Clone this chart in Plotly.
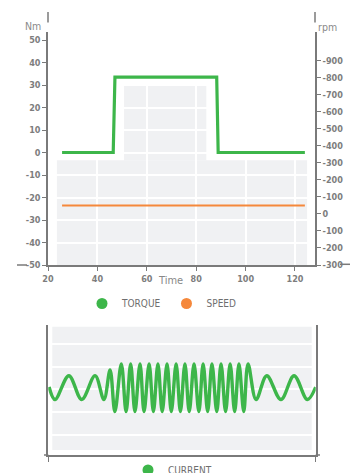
import plotly.graph_objects as go

W, H = 355, 473

# ---- data -------------------------------------------------------------
# torque step profile, Nm
torque_time = [25.7, 46.4, 47.1, 88.3, 88.9, 124.0]
torque_nm = [0, 0, 33.5, 33.5, 0, 0]

# motor speed, rpm
speed_time = [25.7, 124.0]
speed_rpm = [50, 50]

# right-hand axis ticks and their printed labels
rpm_ticks = [-300, -200, -100, 0, 100, 200, 300, 400, 500, 600, 700, 800, 900]
rpm_labels = ["-300", "-200", "-100", "0", "-100", "-200", "-300",
              "-400", "-500", "-600", "-700", "-800", "-900"]

torque_ticks = [-50, -40, -30, -20, -10, 0, 10, 20, 30, 40, 50]
torque_labels = ["-50", "-40", "-30", "-20", "-10", "0", "10", "20", "30", "40", "50"]
time_ticks = [20, 40, 60, 80, 100, 120]

# phase current, extrema of the waveform (time %, amplitude)
current_time = [0.3, 2.5, 7.7, 12.5, 17.5, 20.8, 23.1,
                24.9, 27.3, 29.1, 30.8, 32.4, 34.3, 35.8, 37.7, 39.3, 41.0,
                42.6, 44.4, 46.0, 47.8, 49.4, 51.1, 52.7, 54.5, 56.3, 57.9,
                59.6, 61.2, 63.0, 64.6, 66.3, 68.0, 69.7, 71.3, 73.1, 74.7,
                77.7, 81.7, 87.0, 91.9, 96.9, 100.0]
current_amp = [0.1, -0.45, 0.6, -0.45, 0.6, -0.45, 0.85,
               -0.98, 1.12, -0.98, 1.12, -0.98, 1.12, -0.98, 1.12, -0.98, 1.12,
               -0.98, 1.12, -0.98, 1.12, -0.98, 1.12, -0.98, 1.12, -0.98, 1.12,
               -0.98, 1.12, -0.98, 1.12, -0.98, 1.12, -0.98, 1.12, -0.98, 1.12,
               -0.45, 0.6, -0.45, 0.6, -0.45, 0.1]

# ---- styling ----------------------------------------------------------
GREEN = "#3db64a"
ORANGE = "#f5883b"
PANEL = "#f0f1f3"
AXIS = "#7a7a7a"
TICK = "#7d7d7d"
NARROW = "Liberation Sans Narrow, DejaVu Sans Condensed, Roboto, sans-serif"


def px(x):
    return x / W


def py(y):
    return 1 - y / H


tick_font = dict(family=NARROW, size=9, color=TICK, weight="bold")
legend_font = dict(family=NARROW, size=10, color="#6e6e6e")
unit_font = dict(family=NARROW, size=10.5, color="#8a8a8a")

fig = go.Figure()

fig.add_trace(go.Scatter(x=torque_time, y=torque_nm, mode="lines",
                         line=dict(color=GREEN, width=3.2),
                         showlegend=False, xaxis="x", yaxis="y"))
fig.add_trace(go.Scatter(x=speed_time, y=speed_rpm, mode="lines",
                         line=dict(color=ORANGE, width=2.2),
                         showlegend=False, xaxis="x", yaxis="y2"))
fig.add_trace(go.Scatter(x=current_time, y=current_amp, mode="lines",
                         line=dict(color=GREEN, width=3.4, shape="spline",
                                   smoothing=1.0),
                         showlegend=False, xaxis="x3", yaxis="y3"))

# legend entries (dots)
fig.add_trace(go.Scatter(x=[None], y=[None], mode="markers", name="TORQUE",
                         marker=dict(color=GREEN, size=11), legend="legend",
                         xaxis="x", yaxis="y"))
fig.add_trace(go.Scatter(x=[None], y=[None], mode="markers", name="SPEED",
                         marker=dict(color=ORANGE, size=11), legend="legend",
                         xaxis="x", yaxis="y"))
fig.add_trace(go.Scatter(x=[None], y=[None], mode="markers", name="CURRENT",
                         marker=dict(color=GREEN, size=11), legend="legend2",
                         xaxis="x3", yaxis="y3"))

top_dom = [py(265), py(31.5)]
bot_dom = [py(455), py(325)]
x_dom = [px(48), px(315)]

axis_common = dict(showline=True, linecolor=AXIS, linewidth=1.5,
                   ticks="outside", tickcolor=AXIS, ticklen=4, tickwidth=1.2,
                   tickfont=tick_font, zeroline=False)

shapes = [
    # shaded panel behind the torque chart
    dict(type="rect", xref="x", yref="y", x0=23.6, x1=124.9, y0=-50, y1=-3.4,
         fillcolor=PANEL, line_width=0, layer="below"),
    dict(type="rect", xref="x", yref="y", x0=50.8, x1=84.1, y0=-3.5, y1=29.9,
         fillcolor=PANEL, line_width=0, layer="below"),
    # shaded panel behind the current chart
    dict(type="rect", xref="paper", yref="paper", x0=px(52.3), x1=px(311.7),
         y0=py(450), y1=py(326.7), fillcolor=PANEL, line_width=0, layer="below"),
]


def seg(x0, y0, x1, y1):
    return dict(type="line", xref="paper", yref="paper",
                x0=px(x0), y0=py(y0), x1=px(x1), y1=py(y1),
                line=dict(color=AXIS, width=1.5), layer="above")


shapes += [
    seg(48, 12, 48, 22.5), seg(315, 12, 315, 22.5),
    seg(17, 265, 27, 265), seg(340, 264.3, 350, 264.3),
    seg(44, 455, 48.3, 455), seg(315.7, 455, 320, 455),
]

fig.update_layout(
    width=W, height=H,
    margin=dict(l=0, r=0, t=0, b=0, autoexpand=False),
    paper_bgcolor="white", plot_bgcolor="white",
    font=dict(family=NARROW, color=TICK),
    shapes=shapes,
    xaxis=dict(domain=x_dom, range=[20, 128.1], tickvals=time_ticks,
               showgrid=True, gridcolor="white", gridwidth=1.6,
               anchor="y", **axis_common),
    yaxis=dict(domain=top_dom, range=[-50, 53.8], tickvals=torque_ticks,
               ticktext=torque_labels,
               showgrid=True, gridcolor="white", gridwidth=1.6,
               anchor="x", **axis_common),
    yaxis2=dict(overlaying="y", side="right", anchor="x",
                range=[-300, 1073], tickvals=rpm_ticks, ticktext=rpm_labels,
                showgrid=False, **axis_common),
    xaxis3=dict(domain=[px(48.3), px(315.7)], range=[0, 100], anchor="y3",
                tickvals=[0, 100], showticklabels=False, showgrid=False,
                showline=True, linecolor=AXIS, linewidth=1.5,
                ticks="outside", tickcolor=AXIS, ticklen=5, tickwidth=1.2,
                zeroline=False),
    yaxis3=dict(domain=bot_dom, range=[-2.89, 2.83], anchor="x3",
                tickvals=[-2, -1, 0, 1, 2], showticklabels=False, ticks="",
                showgrid=True, gridcolor="white", gridwidth=1.6,
                showline=True, mirror=True, linecolor=AXIS, linewidth=1.5,
                zeroline=False),
    legend=dict(orientation="h", x=px(82), y=py(289), xanchor="left",
                yanchor="top", font=legend_font,
                itemwidth=30, bgcolor="rgba(0,0,0,0)"),
    legend2=dict(orientation="h", x=px(128), y=py(455.5), xanchor="left",
                 yanchor="top", font=legend_font,
                 itemwidth=30, bgcolor="rgba(0,0,0,0)"),
    annotations=[
        dict(text="Nm", xref="paper", yref="paper", x=px(33), y=py(25.5),
             xanchor="center", yanchor="middle", showarrow=False, font=unit_font),
        dict(text="rpm", xref="paper", yref="paper", x=px(327), y=py(27.5),
             xanchor="center", yanchor="middle", showarrow=False, font=unit_font),
        dict(text="Time", xref="paper", yref="paper", x=px(170), y=py(280.5),
             xanchor="center", yanchor="middle", showarrow=False,
             font=dict(family=NARROW, size=11, color="#888")),
    ],
)

fig.write_html("out.html")
